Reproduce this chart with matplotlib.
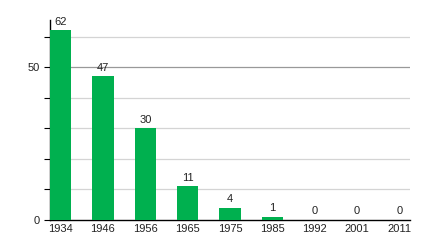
import matplotlib
matplotlib.use("Agg")
import matplotlib.pyplot as plt
from matplotlib.ticker import MultipleLocator

plt.rcParams["font.family"] = ["Liberation Sans", "DejaVu Sans"]

years = ["1934", "1946", "1956", "1965", "1975", "1985", "1992", "2001", "2011"]
values = [62, 47, 30, 11, 4, 1, 0, 0, 0]

fig = plt.figure(figsize=(4.4, 2.4), dpi=100)
ax = fig.add_axes([0.1136, 0.0833, 0.8182, 0.8334])

x = range(len(years))
bars = ax.bar(x, values, width=0.5, color="#00b04f", zorder=3)
for xi, v in zip(x, values):
    ax.text(xi, v + 1.2, str(v), ha="center", va="bottom", fontsize=8, color="#222222")

ax.set_xlim(-0.25, 8.25)
ax.set_ylim(0, 65.4)
ax.set_xticks(list(x))
ax.set_xticklabels(years, fontsize=8, color="#222222")
ax.yaxis.set_major_locator(MultipleLocator(50))
ax.yaxis.set_minor_locator(MultipleLocator(10))
ax.tick_params(axis="y", which="both", labelsize=8, labelcolor="#222222",
               direction="out", length=4, width=0.8)
ax.tick_params(axis="x", length=0, pad=3)

for g in [10, 20, 30, 40, 60]:
    ax.axhline(g, color="#d4d4d4", lw=0.9, zorder=1)
ax.axhline(50, color="#999999", lw=0.9, zorder=1)

for s in ["top", "right"]:
    ax.spines[s].set_visible(False)
ax.spines["left"].set_linewidth(1.0)
ax.spines["bottom"].set_linewidth(1.0)

fig.savefig("out.png", dpi=100)
